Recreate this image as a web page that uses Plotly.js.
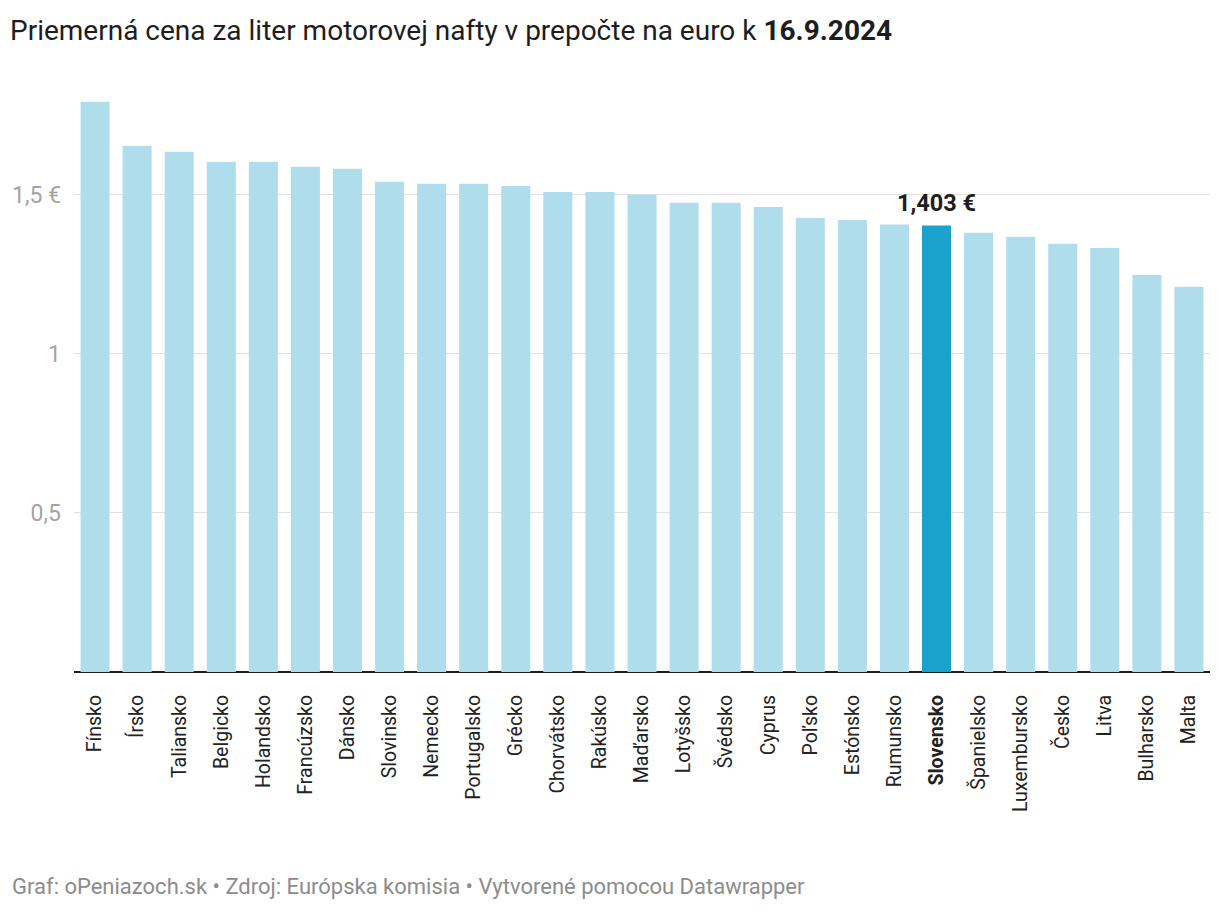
<!DOCTYPE html>
<html>
<head>
<meta charset="utf-8">
<script src="https://cdn.plot.ly/plotly-3.0.1.min.js"></script>
<style>html,body{margin:0;padding:0;background:#fff;}#chart{width:1220px;height:912px;}</style>
</head>
<body>
<div id="chart"></div>
<script>
const countries = ["Fínsko","Írsko","Taliansko","Belgicko","Holandsko","Francúzsko","Dánsko","Slovinsko","Nemecko","Portugalsko","Grécko","Chorvátsko","Rakúsko","Maďarsko","Lotyšsko","Švédsko","Cyprus","Poľsko","Estónsko","Rumunsko","Slovensko","Španielsko","Luxembursko","Česko","Litva","Bulharsko","Malta"];
const prices = [1.791,1.653,1.634,1.603,1.603,1.587,1.581,1.540,1.534,1.534,1.527,1.508,1.508,1.500,1.474,1.474,1.461,1.427,1.420,1.406,1.403,1.380,1.367,1.345,1.332,1.247,1.210];
const highlight = "Slovensko";
const yTickVals = [0.5, 1, 1.5];
const yTickText = ["0,5", "1", "1,5 €"];

const W = 1220, H = 912;
const L = 74, R = 10, T = 99, B = 240;
const plotW = W - L - R, plotH = H - T - B;

const colors = countries.map(c => c === highlight ? "#1ba2cc" : "#b0ddec");
const tickText = countries.map(c => c === highlight ? "<b>" + c + "</b>" : c);
const hiIdx = countries.indexOf(highlight);
const hiLabel = prices[hiIdx].toFixed(3).replace(".", ",") + " €";

const trace = {
  type: "bar",
  x: countries,
  y: prices,
  marker: { color: colors, line: { width: 0 } },
  hoverinfo: "none"
};

const layout = {
  width: W, height: H,
  margin: { l: L, r: R, t: T, b: B, pad: 0 },
  paper_bgcolor: "#fff",
  plot_bgcolor: "#fff",
  font: { family: "Roboto, sans-serif", color: "#333" },
  bargap: 0.31,
  showlegend: false,
  title: {
    text: "Priemerná cena za liter motorovej nafty v prepočte na euro k <b>16.9.2024</b>",
    font: { family: "Roboto, sans-serif", size: 28, color: "#1d1d1d" },
    xref: "container", yref: "container",
    x: 10 / W, xanchor: "left",
    y: 1 - 30 / H, yanchor: "middle"
  },
  xaxis: {
    type: "category",
    tickvals: countries,
    ticktext: tickText,
    tickangle: -90,
    tickfont: { family: "Roboto, sans-serif", size: 19.5, color: "#222" },
    ticks: "",
    ticklabelstandoff: 18,
    showgrid: false,
    showline: false,
    zeroline: false,
    fixedrange: true
  },
  yaxis: {
    range: [0, 1.8],
    tickvals: yTickVals,
    ticktext: yTickText,
    tickfont: { family: "Roboto, sans-serif", size: 23, color: "#a3a3a3" },
    ticks: "",
    ticklabelstandoff: 12,
    showgrid: true,
    gridcolor: "#e1e1e1",
    gridwidth: 1,
    zeroline: true,
    zerolinecolor: "#1d1d1d",
    zerolinewidth: 2,
    showline: false,
    fixedrange: true
  },
  annotations: [
    {
      xref: "x", yref: "y",
      x: highlight, y: prices[hiIdx],
      text: "<b>" + hiLabel + "</b>",
      showarrow: false,
      yanchor: "bottom",
      yshift: 6,
      font: { family: "Roboto, sans-serif", size: 23.5, color: "#1d1d1d" }
    },
    {
      xref: "paper", yref: "paper",
      x: (10 - L) / plotW, xanchor: "left",
      y: (H - B - 886) / plotH, yanchor: "middle",
      text: "Graf: oPeniazoch.sk • Zdroj: Európska komisia • Vytvorené pomocou Datawrapper",
      showarrow: false,
      font: { family: "Roboto, sans-serif", size: 22, color: "#8c8c8c" }
    }
  ]
};

Plotly.newPlot("chart", [trace], layout, { displayModeBar: false, staticPlot: true });
</script>
</body>
</html>
